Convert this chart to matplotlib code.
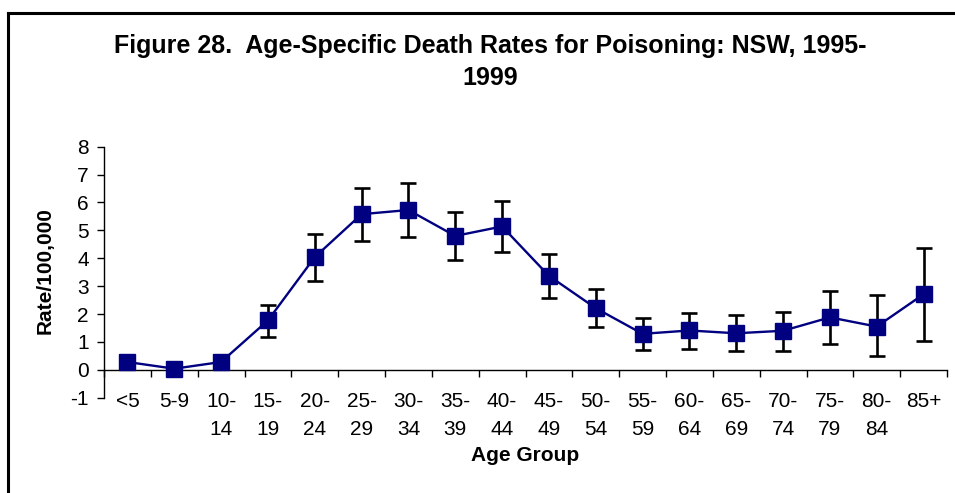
"""Age-specific death rates for poisoning, NSW 1995-1999, with 95% CI bars."""

import matplotlib
matplotlib.use("Agg")
import matplotlib.pyplot as plt
from matplotlib.lines import Line2D

plt.rcParams["font.family"] = ["Liberation Sans", "DejaVu Sans"]
plt.rcParams["axes.unicode_minus"] = False

# Data
age_groups = ["<5", "5-9", "10-\n14", "15-\n19", "20-\n24", "25-\n29", "30-\n34",
              "35-\n39", "40-\n44", "45-\n49", "50-\n54", "55-\n59", "60-\n64",
              "65-\n69", "70-\n74", "75-\n79", "80-\n84", "85+"]
rates = [0.28, 0.04, 0.28, 1.77, 4.04, 5.58, 5.73, 4.80, 5.14, 3.37, 2.21,
         1.29, 1.41, 1.31, 1.40, 1.88, 1.55, 2.71]
ci_lower = [0.28, 0.04, 0.28, 1.19, 3.19, 4.62, 4.76, 3.94, 4.21, 2.57, 1.52,
            0.70, 0.76, 0.68, 0.68, 0.92, 0.48, 1.03]
ci_upper = [0.28, 0.04, 0.28, 2.33, 4.86, 6.51, 6.69, 5.67, 6.06, 4.15, 2.88,
            1.86, 2.05, 1.97, 2.07, 2.81, 2.68, 4.37]
y_ticks = [-1, 0, 1, 2, 3, 4, 5, 6, 7, 8]

title_lines = ["Figure 28.  Age-Specific Death Rates for Poisoning: NSW, 1995-", "1999"]

W, H = 955, 493
fig = plt.figure(figsize=(W / 100, H / 100), dpi=100)
ax = fig.add_axes([104 / W, 1 - 397.7 / H, 843 / W, 251 / H])

x = list(range(len(age_groups)))
err_lo = [r - lo for r, lo in zip(rates, ci_lower)]
err_hi = [hi - r for r, hi in zip(rates, ci_upper)]

ax.errorbar(x, rates, yerr=[err_lo, err_hi], fmt="none", ecolor="black",
            elinewidth=1.9, capsize=5.5, capthick=1.9, zorder=2)
ax.plot(x, rates, color="#000080", lw=1.7, marker="s", markersize=11.5,
        markerfacecolor="#000080", markeredgecolor="#000080", zorder=3)

ax.set_xlim(-0.5, len(age_groups) - 0.5)
ax.set_ylim(-1, 8)

# Spines: category axis crosses at 0, labels stay at the bottom
for side in ("top", "right"):
    ax.spines[side].set_visible(False)
ax.spines["bottom"].set_position(("data", 0))
for side in ("left", "bottom"):
    ax.spines[side].set_linewidth(1.0)
    ax.spines[side].set_color("black")

ax.set_yticks(y_ticks)
ax.tick_params(axis="y", direction="out", length=5, width=1.0, pad=6,
               labelsize=15)

ax.set_xticks(x)
ax.set_xticklabels(age_groups, linespacing=1.58)
ax.set_xticks([i - 0.5 for i in range(len(age_groups) + 1)], minor=True)
ax.tick_params(axis="x", which="major", length=0, pad=16, labelsize=15)
ax.tick_params(axis="x", which="minor", direction="out", length=5, width=1.0)

ax.set_ylabel("Rate/100,000", fontsize=15, fontweight="bold")
ax.yaxis.set_label_coords((54.5 - 104) / 843, (397.7 - 271) / 251)
ax.set_xlabel("Age Group", fontsize=15, fontweight="bold")
ax.xaxis.set_label_coords(0.5, (397.7 - 446) / 251)

# Title, two lines as Excel wrapped it
fig.text(490 / W, 1 - 53 / H, title_lines[0], ha="center", va="baseline",
         fontsize=18, fontweight="bold")
fig.text(490 / W, 1 - 85 / H, title_lines[1], ha="center", va="baseline",
         fontsize=18, fontweight="bold")

# Chart-area frame (top and left edges visible in the crop)
fig.add_artist(Line2D([8 / W, 1.0], [1 - 13 / H, 1 - 13 / H],
                      transform=fig.transFigure, color="black", lw=2.2))
fig.add_artist(Line2D([8 / W, 8 / W], [1 - 13 / H, 0.0],
                      transform=fig.transFigure, color="black", lw=2.2))

fig.savefig("out.png", dpi=100)
